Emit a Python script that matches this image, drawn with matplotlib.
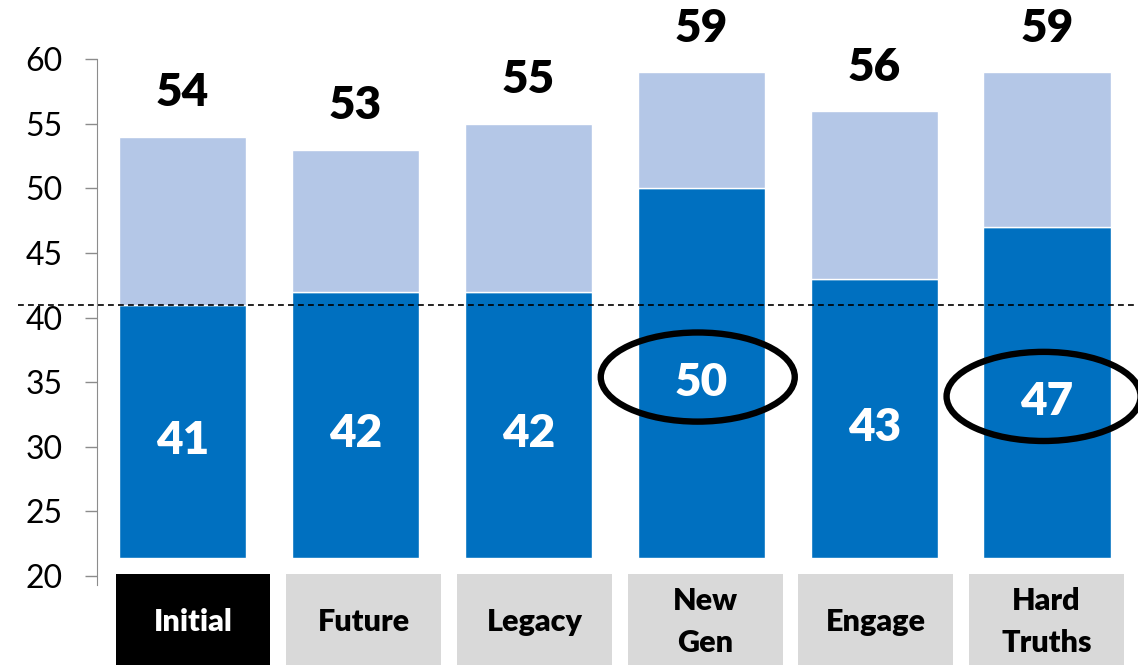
import numpy as np
import matplotlib.pyplot as plt
from matplotlib.patches import Ellipse, Rectangle

plt.rcParams['font.family'] = ['Lato', 'DejaVu Sans']

# scores per scenario
categories = ['Initial', 'Future', 'Legacy', 'New\nGen', 'Engage', 'Hard\nTruths']
base_scores = [41, 42, 42, 50, 43, 47]
total_scores = [54, 53, 55, 59, 56, 59]
reference_line = 41
highlighted = ['New\nGen', 'Hard\nTruths']
y_ticks = [20, 25, 30, 35, 40, 45, 50, 55, 60]

DARK = '#0070C0'
LIGHT = '#B4C7E7'
BOX_GREY = '#D9D9D9'
AXIS_MIN = 20
BAR_FLOOR = 21.4

W, H = 1138, 665
fig = plt.figure(figsize=(W / 100, H / 100), dpi=100)
ax = fig.add_axes([0.0852, 0.1203, 0.9148, 0.7905])

x = np.arange(len(categories))
base = np.array(base_scores)
total = np.array(total_scores)

ax.bar(x, base - BAR_FLOOR, bottom=BAR_FLOOR, width=0.735, color=DARK,
       edgecolor='white', linewidth=1, zorder=2)
ax.bar(x, total - base, bottom=base, width=0.735, color=LIGHT,
       edgecolor='white', linewidth=1, zorder=2)

# value labels
for xi, b, t in zip(x, base, total):
    ax.text(xi, (AXIS_MIN + b) / 2, str(b), ha='center', va='center',
            color='white', fontsize=33, fontweight='heavy', zorder=4)
    ax.text(xi, t + 3.4, str(t), ha='center', va='center',
            color='black', fontsize=33, fontweight='heavy', clip_on=False)

# circle the scenarios worth a closer look
for xi, cat, b in zip(x, categories, base):
    if cat in highlighted:
        ax.add_patch(Ellipse((xi - 0.02, (AXIS_MIN + b) / 2 + 0.4), 1.122, 6.9,
                             fill=False, edgecolor='black', linewidth=4.6,
                             zorder=5, clip_on=False))

# baseline reference
ax.plot([-0.953, 5.53], [reference_line, reference_line], color='black',
        linewidth=1.2, linestyle=(0, (3.5, 2.5)), zorder=3, clip_on=False)

ax.set_xlim(-0.4945, 5.526)
ax.set_ylim(19.3, 60)
ax.set_yticks(y_ticks)
ax.set_xticks([])
for s in ['top', 'right', 'bottom']:
    ax.spines[s].set_visible(False)
ax.spines['left'].set_color('#8c8c8c')
ax.tick_params(axis='y', length=8.6, width=1, color='#8c8c8c', pad=16,
               labelsize=23)

# category boxes under the bars
for k, cat in enumerate(categories):
    cx = 193 + 170.7 * k
    face = 'black' if k == 0 else BOX_GREY
    txt = 'white' if k == 0 else 'black'
    fig.patches.append(Rectangle(((cx - 77.5) / W, 0), 155 / W, 91 / H,
                                 transform=fig.transFigure, facecolor=face,
                                 edgecolor='none'))
    fig.text(cx / W, 43.3 / H, cat, ha='center', va='center', color=txt,
             fontsize=22, fontweight='heavy', linespacing=1.6)

fig.savefig('out.png', dpi=100)
